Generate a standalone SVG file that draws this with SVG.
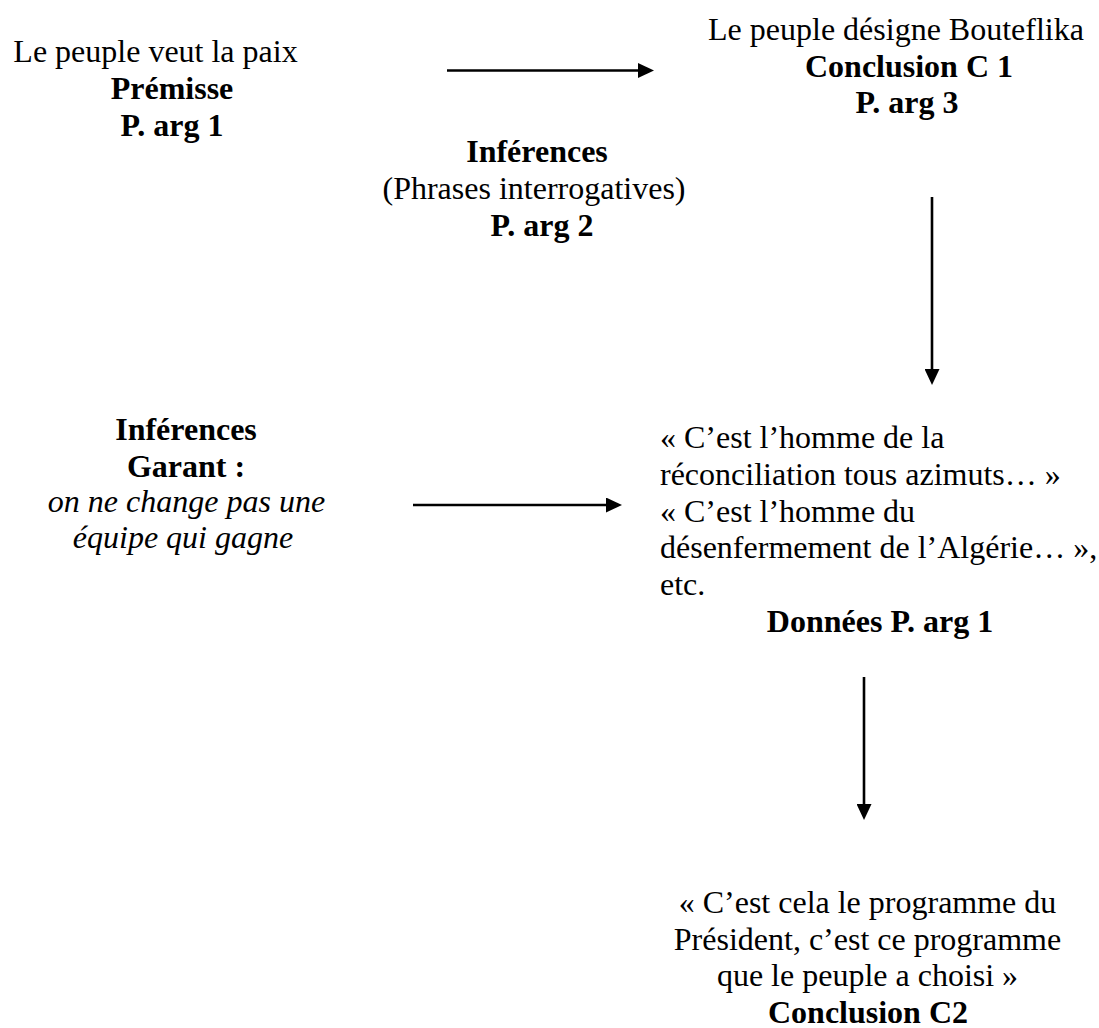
<svg xmlns="http://www.w3.org/2000/svg" width="1099" height="1028" viewBox="0 0 1099 1028">
  <style>
    text { font-family: "Liberation Serif", "Times New Roman", serif; font-size: 32px; fill: #000; }
    .b { font-weight: bold; }
    .i { font-style: italic; }
    .c { text-anchor: middle; }
    .edge { stroke: #000; stroke-width: 2.6; fill: none; marker-end: url(#head); }
  </style>
  <defs>
    <marker id="head" markerUnits="userSpaceOnUse" markerWidth="16" markerHeight="15" refX="0" refY="7.5" orient="auto">
      <path d="M0,0 L16,7.5 L0,15 Z" fill="#000"/>
    </marker>
  </defs>

  <!-- connectors -->
  <g id="connectors">
    <path class="edge" d="M447,70.5 L638,70.5"/>
    <path class="edge" d="M932,197 L932,369"/>
    <path class="edge" d="M413,505 L606,505"/>
    <path class="edge" d="M864,677 L864,804"/>
  </g>

  <!-- premise -->
  <g id="premisse">
    <text x="155.5" y="62" class="c">Le peuple veut la paix</text>
    <text x="172" y="99" class="b c">Prémisse</text>
    <text x="172" y="136" class="b c">P. arg 1</text>
  </g>

  <!-- conclusion C1 -->
  <g id="conclusion-c1">
    <text x="896" y="40" class="c">Le peuple désigne Bouteflika</text>
    <text x="909" y="77" class="b c">Conclusion C 1</text>
    <text x="907" y="113" class="b c">P. arg 3</text>
  </g>

  <!-- inferences (questions) -->
  <g id="inferences-p2">
    <text x="537" y="162" class="b c">Inférences</text>
    <text x="534" y="198.8" class="c">(Phrases interrogatives)</text>
    <text x="542" y="235.6" class="b c">P. arg 2</text>
  </g>

  <!-- warrant -->
  <g id="garant">
    <text x="186" y="440" class="b c">Inférences</text>
    <text x="186" y="477" class="b c">Garant :</text>
    <text x="186.5" y="512" class="i c">on ne change pas une</text>
    <text x="183" y="548" class="i c">équipe qui gagne</text>
  </g>

  <!-- data -->
  <g id="donnees">
    <text x="660" y="448">« C’est l’homme de la</text>
    <text x="660" y="484.8">réconciliation tous azimuts… »</text>
    <text x="660" y="521.6">« C’est l’homme du</text>
    <text x="660" y="558.4">désenfermement de l’Algérie… »,</text>
    <text x="660" y="595.2">etc.</text>
    <text x="880" y="632" class="b c">Données P. arg 1</text>
  </g>

  <!-- conclusion C2 -->
  <g id="conclusion-c2">
    <text x="867.5" y="913" class="c">« C’est cela le programme du</text>
    <text x="867.5" y="949.5" class="c">Président, c’est ce programme</text>
    <text x="867.5" y="986" class="c">que le peuple a choisi »</text>
    <text x="868" y="1022.5" class="b c">Conclusion C2</text>
  </g>
</svg>
